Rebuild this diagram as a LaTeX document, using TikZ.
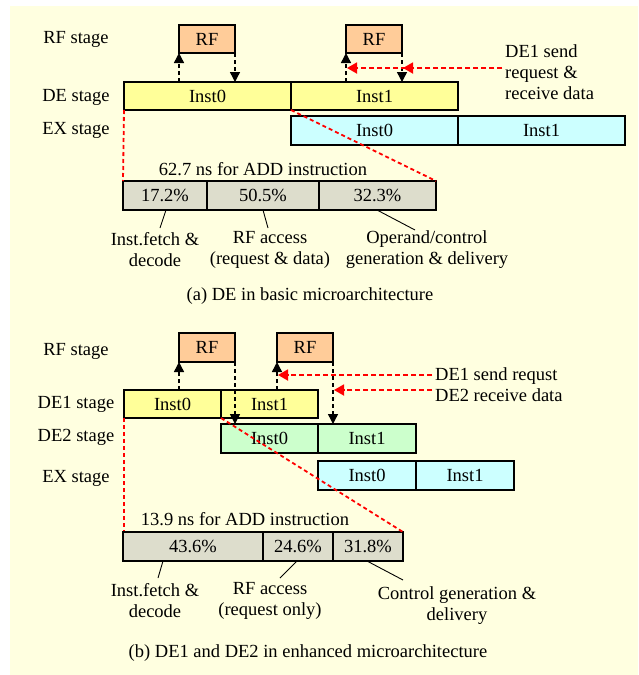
\documentclass[tikz,border=0pt]{standalone}
\usepackage{fontspec}
\setmainfont{Liberation Serif}
\usetikzlibrary{arrows.meta}
\definecolor{bgyel}{HTML}{FFFFE0}
\definecolor{rfcol}{HTML}{FFCC99}
\definecolor{decol}{HTML}{FFFF99}
\definecolor{excol}{HTML}{CCFFFF}
\definecolor{de2col}{HTML}{CCFFCC}
\definecolor{pctcol}{HTML}{DDDDCC}
\tikzset{
  cell/.style={draw=black, line width=1.3pt, anchor=north west, inner sep=0pt, outer sep=0pt, font=\fontsize{18.5}{21}\selectfont},
  txt/.style={inner sep=0pt, align=center, font=\fontsize{18.5}{21}\selectfont},
  darr/.style={black, line width=1.4pt, dash pattern=on 4pt off 3pt, -{Triangle[length=10pt,width=10pt]}},
  rarr/.style={red, line width=1.8pt, dash pattern=on 5pt off 3pt, -{Triangle[length=10pt,width=11pt]}},
  rline/.style={red, line width=1.8pt, dash pattern=on 4pt off 3pt},
  lead/.style={black, line width=0.9pt}
}
\begin{document}
\begin{tikzpicture}[x=1pt,y=-1pt]
\useasboundingbox (0,0) rectangle (638,675);
\fill[bgyel] (10,6) rectangle (638,675);

% ---------- (a) ----------
\node[txt] (la1) at (76,39) {RF stage};
\node[txt] (la2) at (76,97) {DE stage};
\node[txt] (la3) at (76,130) {EX stage};

\node[cell, fill=rfcol, minimum width=56pt, minimum height=28pt] (rfa1) at (179,25) {RF};
\node[cell, fill=rfcol, minimum width=56pt, minimum height=28pt] (rfa2) at (346,25) {RF};
\node[cell, fill=decol, minimum width=167pt, minimum height=28pt] (dea0) at (124,82) {Inst0};
\node[cell, fill=decol, minimum width=167pt, minimum height=28pt] (dea1) at (291,82) {Inst1};
\node[cell, fill=excol, minimum width=167pt, minimum height=29pt] (exa0) at (291,116) {Inst0};
\node[cell, fill=excol, minimum width=167pt, minimum height=29pt] (exa1) at (458,116) {Inst1};

\draw[darr] (rfa1.south west |- dea0.north) -- (rfa1.south west);
\draw[darr] (rfa1.south east) -- (rfa1.south east |- dea0.north);
\draw[darr] (rfa2.south west |- dea1.north) -- (rfa2.south west);
\draw[darr] (rfa2.south east) -- (rfa2.south east |- dea1.north);

\coordinate (ta) at (502,68);
\draw[rarr] (ta) -- ([xshift=1pt]rfa2.south west |- ta);
\draw[rarr] (ta) -- ([xshift=1pt]rfa2.south east |- ta);
\node[txt, align=left, anchor=west] (nta) at (505,72) {DE1 send\\request \&\\receive data};

\node[txt] (tta) at (263,169) {62.7 ns for ADD instruction};
\node[cell, fill=pctcol, minimum width=84pt, minimum height=29pt] (pa1) at (123,181) {17.2\%};
\node[cell, fill=pctcol, minimum width=112pt, minimum height=29pt] (pa2) at (207,181) {50.5\%};
\node[cell, fill=pctcol, minimum width=117pt, minimum height=29pt] (pa3) at (319,181) {32.3\%};

\draw[rline] (dea0.south west) -- (pa1.north west);
\draw[rline] (dea0.south east) -- (pa3.north east);

\node[txt] (ga1) at (155,249.5) {Inst.fetch \&\\decode};
\node[txt] (ga2) at (270,249.5) {RF access\\(request \& data)};
\node[txt] (ga3) at (427,249.5) {Operand/control\\generation \& delivery};
\coordinate (sa1) at (166,210); \coordinate (ea1) at (160,228);
\coordinate (sa2) at (263,210); \coordinate (ea2) at (268,228);
\coordinate (sa3) at (377,210); \coordinate (ea3) at (415,230);
\draw[lead] (sa1) -- (ea1);
\draw[lead] (sa2) -- (ea2);
\draw[lead] (sa3) -- (ea3);

\node[txt] (capa) at (310,296) {(a) DE in basic microarchitecture};

% ---------- (b) ----------
\node[txt] (lb1) at (76,351) {RF stage};
\node[txt] (lb2) at (76,404) {DE1 stage};
\node[txt] (lb3) at (76,437) {DE2 stage};
\node[txt] (lb4) at (76,478) {EX stage};

\node[cell, fill=rfcol, minimum width=56pt, minimum height=29pt] (rfb1) at (179,333) {RF};
\node[cell, fill=rfcol, minimum width=56pt, minimum height=29pt] (rfb2) at (277,333) {RF};
\node[cell, fill=decol, minimum width=97pt, minimum height=28pt] (db0) at (124,390) {Inst0};
\node[cell, fill=decol, minimum width=97pt, minimum height=28pt] (db1) at (221,390) {Inst1};
\node[cell, fill=de2col, minimum width=97pt, minimum height=29pt] (dc0) at (221,424) {Inst0};
\node[cell, fill=de2col, minimum width=98pt, minimum height=29pt] (dc1) at (318,424) {Inst1};
\node[cell, fill=excol, minimum width=98pt, minimum height=29pt] (eb0) at (318,461) {Inst0};
\node[cell, fill=excol, minimum width=98pt, minimum height=29pt] (eb1) at (416,461) {Inst1};

\draw[rline] (db0.south west) -- ++(0,114) coordinate (pbtl);
\draw[darr] (rfb1.south west |- db0.north) -- (rfb1.south west);
\draw[darr] (rfb1.south east) -- (rfb1.south east |- dc0.north);
\draw[darr] (rfb2.south west |- db1.north) -- (rfb2.south west);
\draw[darr] (rfb2.south east) -- (rfb2.south east |- dc1.north);

\coordinate (tb1) at (432,375);
\coordinate (tb2) at (432,390);
\draw[rarr] (tb1) -- ([xshift=1pt]rfb2.south west |- tb1);
\draw[rarr] (tb2) -- ([xshift=1pt]rfb2.south east |- tb2);
\node[txt, anchor=west] (ntb1) at (435,376) {DE1 send requst};
\node[txt, anchor=west] (ntb2) at (435,395) {DE2 receive data};

\node[txt] (ttb) at (245,519) {13.9 ns for ADD instruction};
\node[cell, fill=pctcol, minimum width=140pt, minimum height=29pt] (pb1) at (123,532) {43.6\%};
\node[cell, fill=pctcol, minimum width=70pt, minimum height=29pt] (pb2) at (263,532) {24.6\%};
\node[cell, fill=pctcol, minimum width=70pt, minimum height=29pt] (pb3) at (333,532) {31.8\%};

\draw[rline] (db0.south east) -- (pb3.north east);

\node[txt] (gb1) at (155,601) {Inst.fetch \&\\decode};
\node[txt] (gb2) at (270,601) {RF access\\(request only)};
\node[txt] (gb3) at (457,605.5) {Control generation \&\\delivery};
\coordinate (sb1) at (163,561); \coordinate (eb1c) at (158,578);
\coordinate (sb2) at (297,561); \coordinate (eb2c) at (280,578);
\coordinate (sb3) at (367,561); \coordinate (eb3c) at (403,580);
\draw[lead] (sb1) -- (eb1c);
\draw[lead] (sb2) -- (eb2c);
\draw[lead] (sb3) -- (eb3c);

\node[txt] (capb) at (308,653) {(b) DE1 and DE2 in enhanced microarchitecture};
\end{tikzpicture}
\end{document}
